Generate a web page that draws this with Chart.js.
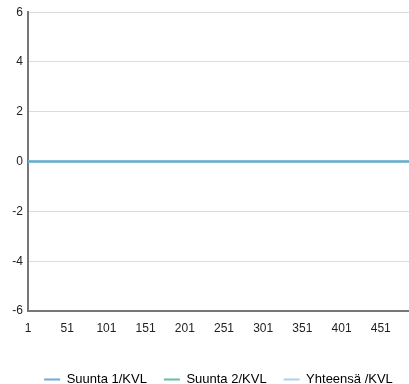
<!DOCTYPE html>
<html>
<head>
<meta charset="utf-8">
<script src="https://cdn.jsdelivr.net/npm/chart.js@4/dist/chart.umd.min.js"></script>
<style>
  html, body { margin: 0; padding: 0; background: #fff; }
  #wrap { width: 409px; height: 384px; }
</style>
</head>
<body>
<div id="wrap"><canvas id="chart" width="409" height="384"></canvas></div>
<script>
// day numbers on the x axis (1..487), a label is shown every 50 days
const DAY_COUNT = 487;
const days = [];
for (let d = 1; d <= DAY_COUNT; d++) days.push(String(d));

const yTicks = [-6, -4, -2, 0, 2, 4, 6];

// daily KVL values per direction - flat zero for the whole period
// (rows of 50 days, groups of 10)
const suunta1 = [
  0,0,0,0,0,0,0,0,0,0, 0,0,0,0,0,0,0,0,0,0, 0,0,0,0,0,0,0,0,0,0, 0,0,0,0,0,0,0,0,0,0, 0,0,0,0,0,0,0,0,0,0,
  0,0,0,0,0,0,0,0,0,0, 0,0,0,0,0,0,0,0,0,0, 0,0,0,0,0,0,0,0,0,0, 0,0,0,0,0,0,0,0,0,0, 0,0,0,0,0,0,0,0,0,0,
  0,0,0,0,0,0,0,0,0,0, 0,0,0,0,0,0,0,0,0,0, 0,0,0,0,0,0,0,0,0,0, 0,0,0,0,0,0,0,0,0,0, 0,0,0,0,0,0,0,0,0,0,
  0,0,0,0,0,0,0,0,0,0, 0,0,0,0,0,0,0,0,0,0, 0,0,0,0,0,0,0,0,0,0, 0,0,0,0,0,0,0,0,0,0, 0,0,0,0,0,0,0,0,0,0,
  0,0,0,0,0,0,0,0,0,0, 0,0,0,0,0,0,0,0,0,0, 0,0,0,0,0,0,0,0,0,0, 0,0,0,0,0,0,0,0,0,0, 0,0,0,0,0,0,0,0,0,0,
  0,0,0,0,0,0,0,0,0,0, 0,0,0,0,0,0,0,0,0,0, 0,0,0,0,0,0,0,0,0,0, 0,0,0,0,0,0,0,0,0,0, 0,0,0,0,0,0,0,0,0,0,
  0,0,0,0,0,0,0,0,0,0, 0,0,0,0,0,0,0,0,0,0, 0,0,0,0,0,0,0,0,0,0, 0,0,0,0,0,0,0,0,0,0, 0,0,0,0,0,0,0,0,0,0,
  0,0,0,0,0,0,0,0,0,0, 0,0,0,0,0,0,0,0,0,0, 0,0,0,0,0,0,0,0,0,0, 0,0,0,0,0,0,0,0,0,0, 0,0,0,0,0,0,0,0,0,0,
  0,0,0,0,0,0,0,0,0,0, 0,0,0,0,0,0,0,0,0,0, 0,0,0,0,0,0,0,0,0,0, 0,0,0,0,0,0,0,0,0,0, 0,0,0,0,0,0,0,0,0,0,
  0,0,0,0,0,0,0,0,0,0, 0,0,0,0,0,0,0,0,0,0, 0,0,0,0,0,0,0,0,0,0, 0,0,0,0,0,0,0
];
const suunta2 = [
  0,0,0,0,0,0,0,0,0,0, 0,0,0,0,0,0,0,0,0,0, 0,0,0,0,0,0,0,0,0,0, 0,0,0,0,0,0,0,0,0,0, 0,0,0,0,0,0,0,0,0,0,
  0,0,0,0,0,0,0,0,0,0, 0,0,0,0,0,0,0,0,0,0, 0,0,0,0,0,0,0,0,0,0, 0,0,0,0,0,0,0,0,0,0, 0,0,0,0,0,0,0,0,0,0,
  0,0,0,0,0,0,0,0,0,0, 0,0,0,0,0,0,0,0,0,0, 0,0,0,0,0,0,0,0,0,0, 0,0,0,0,0,0,0,0,0,0, 0,0,0,0,0,0,0,0,0,0,
  0,0,0,0,0,0,0,0,0,0, 0,0,0,0,0,0,0,0,0,0, 0,0,0,0,0,0,0,0,0,0, 0,0,0,0,0,0,0,0,0,0, 0,0,0,0,0,0,0,0,0,0,
  0,0,0,0,0,0,0,0,0,0, 0,0,0,0,0,0,0,0,0,0, 0,0,0,0,0,0,0,0,0,0, 0,0,0,0,0,0,0,0,0,0, 0,0,0,0,0,0,0,0,0,0,
  0,0,0,0,0,0,0,0,0,0, 0,0,0,0,0,0,0,0,0,0, 0,0,0,0,0,0,0,0,0,0, 0,0,0,0,0,0,0,0,0,0, 0,0,0,0,0,0,0,0,0,0,
  0,0,0,0,0,0,0,0,0,0, 0,0,0,0,0,0,0,0,0,0, 0,0,0,0,0,0,0,0,0,0, 0,0,0,0,0,0,0,0,0,0, 0,0,0,0,0,0,0,0,0,0,
  0,0,0,0,0,0,0,0,0,0, 0,0,0,0,0,0,0,0,0,0, 0,0,0,0,0,0,0,0,0,0, 0,0,0,0,0,0,0,0,0,0, 0,0,0,0,0,0,0,0,0,0,
  0,0,0,0,0,0,0,0,0,0, 0,0,0,0,0,0,0,0,0,0, 0,0,0,0,0,0,0,0,0,0, 0,0,0,0,0,0,0,0,0,0, 0,0,0,0,0,0,0,0,0,0,
  0,0,0,0,0,0,0,0,0,0, 0,0,0,0,0,0,0,0,0,0, 0,0,0,0,0,0,0,0,0,0, 0,0,0,0,0,0,0
];
const yhteensa = [
  0,0,0,0,0,0,0,0,0,0, 0,0,0,0,0,0,0,0,0,0, 0,0,0,0,0,0,0,0,0,0, 0,0,0,0,0,0,0,0,0,0, 0,0,0,0,0,0,0,0,0,0,
  0,0,0,0,0,0,0,0,0,0, 0,0,0,0,0,0,0,0,0,0, 0,0,0,0,0,0,0,0,0,0, 0,0,0,0,0,0,0,0,0,0, 0,0,0,0,0,0,0,0,0,0,
  0,0,0,0,0,0,0,0,0,0, 0,0,0,0,0,0,0,0,0,0, 0,0,0,0,0,0,0,0,0,0, 0,0,0,0,0,0,0,0,0,0, 0,0,0,0,0,0,0,0,0,0,
  0,0,0,0,0,0,0,0,0,0, 0,0,0,0,0,0,0,0,0,0, 0,0,0,0,0,0,0,0,0,0, 0,0,0,0,0,0,0,0,0,0, 0,0,0,0,0,0,0,0,0,0,
  0,0,0,0,0,0,0,0,0,0, 0,0,0,0,0,0,0,0,0,0, 0,0,0,0,0,0,0,0,0,0, 0,0,0,0,0,0,0,0,0,0, 0,0,0,0,0,0,0,0,0,0,
  0,0,0,0,0,0,0,0,0,0, 0,0,0,0,0,0,0,0,0,0, 0,0,0,0,0,0,0,0,0,0, 0,0,0,0,0,0,0,0,0,0, 0,0,0,0,0,0,0,0,0,0,
  0,0,0,0,0,0,0,0,0,0, 0,0,0,0,0,0,0,0,0,0, 0,0,0,0,0,0,0,0,0,0, 0,0,0,0,0,0,0,0,0,0, 0,0,0,0,0,0,0,0,0,0,
  0,0,0,0,0,0,0,0,0,0, 0,0,0,0,0,0,0,0,0,0, 0,0,0,0,0,0,0,0,0,0, 0,0,0,0,0,0,0,0,0,0, 0,0,0,0,0,0,0,0,0,0,
  0,0,0,0,0,0,0,0,0,0, 0,0,0,0,0,0,0,0,0,0, 0,0,0,0,0,0,0,0,0,0, 0,0,0,0,0,0,0,0,0,0, 0,0,0,0,0,0,0,0,0,0,
  0,0,0,0,0,0,0,0,0,0, 0,0,0,0,0,0,0,0,0,0, 0,0,0,0,0,0,0,0,0,0, 0,0,0,0,0,0,0
];

const seriesNames = ["Suunta 1/KVL", "Suunta 2/KVL", "Yhteensä /KVL"];
const seriesColors = ["#6fa8dc", "#5cc3a3", "#aed0ea"];

const FONT = "'Liberation Sans', Arial, sans-serif";
const Y_AXIS_WIDTH = 28;
const X_AXIS_HEIGHT = 33;

function makeSet(i, values) {
  return {
    label: seriesNames[i],
    data: values,
    borderColor: seriesColors[i],
    backgroundColor: seriesColors[i],
    borderWidth: 2,
    pointRadius: 0,
    tension: 0,
    fill: false,
  };
}

// legend sits lower and centred under the plot area instead of the canvas
const legendNudge = {
  id: "legendNudge",
  afterLayout(chart) {
    const lg = chart.legend;
    const dx = (chart.chartArea.left + chart.chartArea.right) / 2 - (lg.left + lg.right) / 2;
    lg.left += dx;
    lg.right += dx;
    lg.top += 12;
    lg.bottom += 12;
  },
};

new Chart(document.getElementById("chart"), {
  type: "line",
  data: {
    labels: days,
    datasets: [makeSet(0, suunta1), makeSet(1, suunta2), makeSet(2, yhteensa)],
  },
  plugins: [legendNudge],
  options: {
    responsive: false,
    animation: false,
    layout: { padding: { top: 7, right: 0, bottom: 0, left: 0 } },
    plugins: {
      tooltip: { enabled: false },
      legend: {
        position: "bottom",
        labels: {
          color: "#222",
          font: { family: FONT, size: 13 },
          boxWidth: 16,
          boxHeight: 2,
          padding: 17,
          generateLabels(chart) {
            return chart.data.datasets.map((ds, i) => ({
              text: ds.label,
              fillStyle: ds.borderColor,
              strokeStyle: ds.borderColor,
              lineWidth: 0,
              hidden: false,
              datasetIndex: i,
            }));
          },
        },
      },
    },
    scales: {
      x: {
        type: "category",
        offset: false,
        grid: { display: false, drawTicks: false },
        border: { color: "#777", width: 2 },
        afterFit(scale) {
          scale.height = X_AXIS_HEIGHT;
          scale.paddingRight = 0;
        },
        ticks: {
          autoSkip: false,
          maxRotation: 0,
          padding: 10,
          color: "#222",
          font: { family: FONT, size: 12 },
          // empty string (not null) so the unlabeled last day adds no right padding
          callback(value, index) {
            return index % 50 === 0 ? days[index] : "";
          },
        },
      },
      y: {
        min: yTicks[0],
        max: yTicks[yTicks.length - 1],
        afterBuildTicks(scale) {
          scale.ticks = yTicks.map((v) => ({ value: v }));
        },
        afterFit(scale) {
          scale.width = Y_AXIS_WIDTH;
        },
        grid: { color: "#dcdcdc", lineWidth: 1, drawTicks: false },
        border: { color: "#777", width: 2 },
        ticks: {
          padding: 5,
          color: "#222",
          font: { family: FONT, size: 12 },
        },
      },
    },
  },
});
</script>
</body>
</html>
